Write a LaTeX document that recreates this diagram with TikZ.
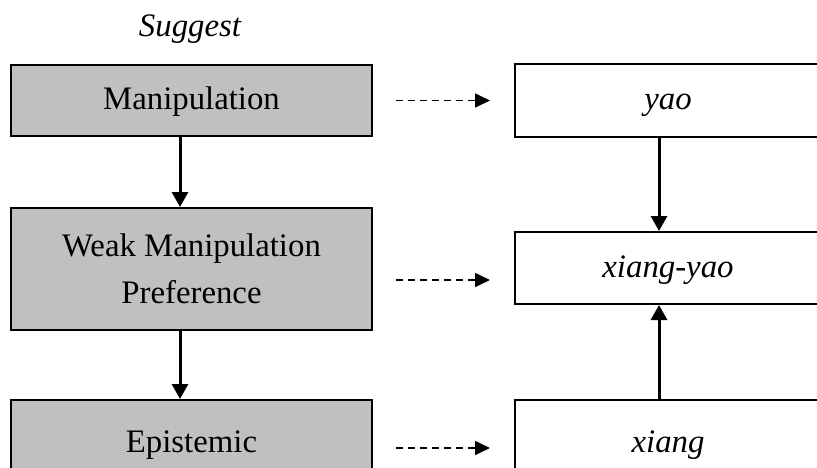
\documentclass[tikz,border=0pt]{standalone}
\usepackage{fontspec}
\setmainfont{Liberation Serif}
\usetikzlibrary{arrows.meta}
\definecolor{boxgray}{HTML}{C0C0C0}
\tikzset{
  x=1pt, y=-1pt,
  lab/.style={font=\fontsize{32.8}{47}\selectfont},
  oneline/.style={text height=23pt, text depth=5pt},
  graybox/.style={lab, draw=black, line width=2pt, fill=boxgray, align=center,
    minimum width=361pt, inner sep=0pt},
  whitebox/.style={lab, oneline, draw=black, line width=2pt, fill=white, align=center,
    minimum width=306pt, inner sep=0pt},
  solidarrow/.style={line width=3pt, -{Triangle[length=15pt,width=16pt]}},
  dasharrow/.style={line width=1.7pt, dash pattern=on 7pt off 5pt,
    -{Triangle[length=15pt,width=14pt]}}
}
\begin{document}
\begin{tikzpicture}
\useasboundingbox (0,0) rectangle (817,467);

% heading
\node[lab, font=\fontsize{32.8}{40}\selectfont\itshape] (head) at (190,29) {Suggest};

% left column: meaning categories
\node[graybox, oneline, minimum height=71pt] (manip) at (191.5,100.5) {Manipulation};
\node[graybox, minimum height=122pt] (weak) at (191.5,269) {Weak Manipulation\\Preference};
\node[graybox, oneline, minimum height=86pt] (epist) at (191.5,443) {Epistemic};

% right column: forms
\node[whitebox, minimum height=73pt] (yao) at (668,100.5) {\itshape yao};
\node[whitebox, minimum height=72pt] (xyao) at (668,268) {\itshape xiang-yao};
\node[whitebox, minimum height=86pt] (xiang) at (668,443) {\itshape xiang};

% column positions of the vertical arrows
\coordinate (lx) at (180,0);
\coordinate (rx) at (659,0);

% vertical arrows
\draw[solidarrow] (manip.south -| lx) -- (weak.north -| lx);
\draw[solidarrow] (weak.south -| lx) -- (epist.north -| lx);
\draw[solidarrow] (yao.south -| rx) -- (xyao.north -| rx);
\draw[solidarrow] (xiang.north -| rx) -- (xyao.south -| rx);

% dashed links between the columns
\draw[dasharrow] ([xshift=23pt]manip.east) -- ([xshift=-24pt]yao.west |- manip.east);
\draw[dasharrow] ([xshift=23pt,yshift=-11pt]weak.east) -- ([xshift=-24pt,yshift=-11pt]xyao.west |- weak.east);
\draw[dasharrow] ([xshift=23pt,yshift=-5pt]epist.east) -- ([xshift=-24pt,yshift=-5pt]xiang.west |- epist.east);
\end{tikzpicture}
\end{document}
